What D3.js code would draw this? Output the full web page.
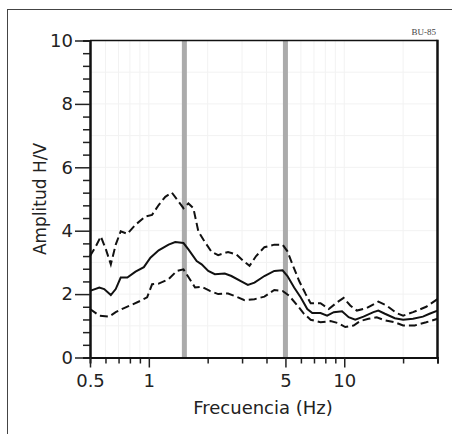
<!DOCTYPE html>
<html>
<head>
<meta charset="utf-8">
<script src="https://cdn.jsdelivr.net/npm/d3@7/dist/d3.min.js"></script>
<style>
  html, body { margin: 0; padding: 0; background: #fff; }
  svg { display: block; }
</style>
</head>
<body>
<div id="chart"></div>
<script>
// ---- Data ----
const meanFreq = [0.5, 0.558, 0.591, 0.639, 0.677, 0.718, 0.776, 0.855, 0.943, 1.019, 1.123, 1.262, 1.365, 1.504, 1.594, 1.757, 1.863, 2.014, 2.177, 2.447, 2.645, 2.972, 3.212, 3.472, 3.903, 4.385, 4.834, 5.12, 5.54, 5.98, 6.47, 6.86, 7.56, 8.17, 8.84, 9.74, 10.53, 11.38, 12.54, 14.10, 14.94, 16.15, 18.15, 20.01, 22.49, 25.26, 27.31, 30];
const meanAmp  = [2.10, 2.21, 2.16, 1.97, 2.16, 2.52, 2.52, 2.71, 2.85, 3.15, 3.38, 3.56, 3.64, 3.61, 3.41, 3.04, 2.94, 2.73, 2.63, 2.65, 2.57, 2.40, 2.29, 2.36, 2.57, 2.73, 2.75, 2.57, 2.21, 1.90, 1.53, 1.40, 1.40, 1.32, 1.43, 1.46, 1.27, 1.19, 1.29, 1.43, 1.48, 1.38, 1.24, 1.19, 1.22, 1.29, 1.38, 1.48];

const upperFreq = [0.5, 0.536, 0.568, 0.603, 0.639, 0.677, 0.718, 0.776, 0.855, 0.961, 1.039, 1.123, 1.214, 1.312, 1.419, 1.504, 1.594, 1.690, 1.792, 1.900, 2.094, 2.263, 2.544, 2.804, 3.030, 3.275, 3.540, 3.903, 4.385, 4.834, 5.12, 5.43, 5.87, 6.35, 6.73, 7.56, 8.33, 9.19, 9.93, 10.73, 11.60, 13.04, 14.94, 16.47, 18.51, 20.01, 22.49, 26.27, 30];
const upperAmp  = [3.20, 3.51, 3.82, 3.41, 2.94, 3.56, 3.98, 3.90, 4.19, 4.45, 4.50, 4.81, 5.07, 5.20, 4.92, 4.71, 4.86, 4.71, 3.98, 3.72, 3.33, 3.23, 3.33, 3.25, 3.06, 2.89, 3.20, 3.48, 3.56, 3.56, 3.35, 2.94, 2.42, 2.00, 1.71, 1.71, 1.53, 1.74, 1.88, 1.64, 1.48, 1.56, 1.76, 1.64, 1.40, 1.32, 1.43, 1.60, 1.84];

const lowerFreq = [0.5, 0.558, 0.627, 0.677, 0.747, 0.823, 0.907, 0.980, 1.039, 1.123, 1.262, 1.391, 1.504, 1.594, 1.724, 1.863, 2.053, 2.263, 2.544, 2.804, 3.089, 3.472, 3.903, 4.385, 4.834, 5.22, 5.76, 6.22, 6.73, 7.56, 8.50, 9.37, 10.12, 11.16, 12.07, 13.30, 14.66, 16.15, 18.15, 20.01, 22.93, 26.27, 30];
const lowerAmp  = [1.53, 1.32, 1.29, 1.43, 1.56, 1.67, 1.79, 1.90, 2.31, 2.33, 2.47, 2.73, 2.78, 2.54, 2.21, 2.23, 2.10, 2.00, 2.02, 1.92, 1.81, 1.84, 1.92, 2.13, 2.10, 1.95, 1.64, 1.38, 1.19, 1.11, 1.15, 1.08, 0.96, 1.01, 1.15, 1.22, 1.27, 1.17, 1.11, 1.01, 1.01, 1.11, 1.22];

const peakBands = [1.52, 5.0];

const xLabelTicks = [0.5, 1, 5, 10];
const xMinorTicks = [0.6, 0.7, 0.8, 0.9, 2, 3, 4, 6, 7, 8, 9, 20, 30];
const yLabelTicks = [0, 2, 4, 6, 8, 10];
const yMinorTicks = [0.4, 0.8, 1.2, 1.6, 2.4, 2.8, 3.2, 3.6, 4.4, 4.8, 5.2, 5.6, 6.4, 6.8, 7.2, 7.6, 8.4, 8.8, 9.2, 9.6];
const yGridTicks = [1, 2, 3, 4, 5, 6, 7, 8, 9];

const stationLabel = "BU-85";
const xTitle = "Frecuencia (Hz)";
const yTitle = "Amplitud H/V";

// ---- Drawing ----
const W = 452, H = 434;
const mLeft = 90, mRight = 437.5, mTop = 40.5, mBottom = 357.5;

const svg = d3.select("#chart").append("svg")
  .attr("width", W).attr("height", H);

// outer frame (right and bottom edges run off the picture)
svg.append("rect")
  .attr("x", 7.5).attr("y", 9.5).attr("width", 470).attr("height", 460)
  .attr("fill", "none").attr("stroke", "#444").attr("stroke-width", 1);

const x = d3.scaleLog().domain([0.5, 30]).range([mLeft, mRight]);
const y = d3.scaleLinear().domain([0, 10]).range([mBottom, mTop]);

// faint grid
const grid = svg.append("g").attr("stroke", "#f2f2f2").attr("stroke-width", 1);
grid.selectAll("line.vx").data(xMinorTicks.concat([1, 5, 10])).join("line")
  .attr("x1", d => x(d)).attr("x2", d => x(d))
  .attr("y1", mTop).attr("y2", mBottom);
grid.selectAll("line.hy").data(yGridTicks).join("line")
  .attr("x1", mLeft).attr("x2", mRight)
  .attr("y1", d => y(d)).attr("y2", d => y(d));

// peak bands
svg.append("g").selectAll("rect").data(peakBands).join("rect")
  .attr("x", d => x(d) - 2.5).attr("width", 5)
  .attr("y", mTop).attr("height", mBottom - mTop)
  .attr("fill", "#ababab");

// curves
const line = (fr) => d3.line()
  .x((d, i) => x(fr[i]))
  .y(d => y(d));

svg.append("path").datum(upperAmp)
  .attr("d", line(upperFreq))
  .attr("fill", "none").attr("stroke", "#111").attr("stroke-width", 2)
  .attr("stroke-dasharray", "8,4");
svg.append("path").datum(lowerAmp)
  .attr("d", line(lowerFreq))
  .attr("fill", "none").attr("stroke", "#111").attr("stroke-width", 2)
  .attr("stroke-dasharray", "8,4");
svg.append("path").datum(meanAmp)
  .attr("d", line(meanFreq))
  .attr("fill", "none").attr("stroke", "#111").attr("stroke-width", 2);

// plot frame
svg.append("line").attr("x1", mLeft).attr("x2", mRight).attr("y1", mTop).attr("y2", mTop)
  .attr("stroke", "#111").attr("stroke-width", 1.5);
svg.append("line").attr("x1", mRight).attr("x2", mRight).attr("y1", mTop - 0.75).attr("y2", mBottom)
  .attr("stroke", "#111").attr("stroke-width", 2.5);

const font = "'DejaVu Sans', Verdana, sans-serif";

// y axis
const yMinor = svg.append("g").attr("transform", `translate(${mLeft},0)`)
  .call(d3.axisLeft(y).tickValues(yMinorTicks).tickSize(7).tickFormat(""));
const yMajor = svg.append("g").attr("transform", `translate(${mLeft},0)`)
  .call(d3.axisLeft(y).tickValues(yLabelTicks).tickSize(15).tickPadding(2).tickSizeOuter(0).tickFormat(d3.format("d")));
[yMinor, yMajor].forEach(g => {
  g.select(".domain").attr("stroke", "#111").attr("stroke-width", 2);
  g.selectAll(".tick line").attr("stroke", "#222").attr("stroke-width", 1.5);
});
yMajor.selectAll("text").attr("font-family", font).attr("font-size", 18).attr("fill", "#222");

// x axis
const xMinor = svg.append("g").attr("transform", `translate(0,${mBottom})`)
  .call(d3.axisBottom(x).tickValues(xMinorTicks).tickSize(6).tickFormat(""));
const xMajor = svg.append("g").attr("transform", `translate(0,${mBottom})`)
  .call(d3.axisBottom(x).tickValues(xLabelTicks).tickSize(10).tickPadding(7).tickSizeOuter(0).tickFormat(d => String(d)));
[xMinor, xMajor].forEach(g => {
  g.select(".domain").attr("stroke", "#111").attr("stroke-width", 2);
  g.selectAll(".tick line").attr("stroke", "#222").attr("stroke-width", 1.5);
});
xMajor.selectAll("text").attr("font-family", font).attr("font-size", 18).attr("fill", "#222");

// titles
svg.append("text")
  .attr("x", 263).attr("y", 414)
  .attr("text-anchor", "middle")
  .attr("font-family", font).attr("font-size", 18).attr("fill", "#222")
  .text(xTitle);
svg.append("text")
  .attr("transform", `translate(46,${(mTop + mBottom) / 2}) rotate(-90)`)
  .attr("text-anchor", "middle")
  .attr("font-family", font).attr("font-size", 17).attr("fill", "#222")
  .text(yTitle);

svg.append("text")
  .attr("x", 436).attr("y", 35)
  .attr("text-anchor", "end")
  .attr("font-family", "'Liberation Serif', serif").attr("font-size", 9).attr("fill", "#444")
  .text(stationLabel);
</script>
</body>
</html>
